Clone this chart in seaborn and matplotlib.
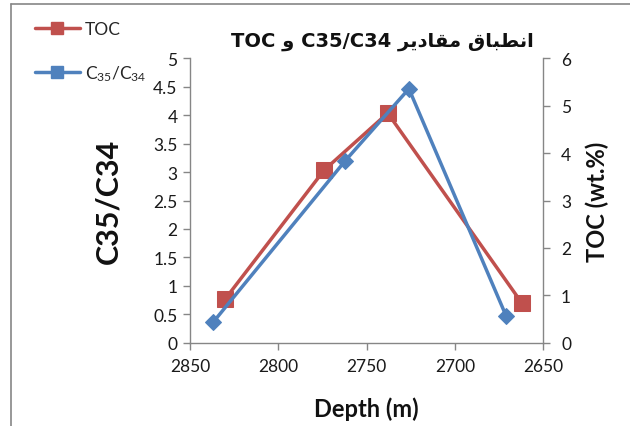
import matplotlib
matplotlib.use("Agg")
import matplotlib.pyplot as plt
from matplotlib.lines import Line2D
import seaborn as sns
import pandas as pd

# ---- data ----
toc_depth = [2830, 2774, 2738, 2662]
toc_values = [0.93, 3.64, 4.84, 0.84]
ratio_depth = [2837, 2762, 2726, 2671]
ratio_values = [0.36, 3.20, 4.46, 0.48]
x_ticks = [2850, 2800, 2750, 2700, 2650]
left_ticks = [0, 0.5, 1, 1.5, 2, 2.5, 3, 3.5, 4, 4.5, 5]
right_ticks = [0, 1, 2, 3, 4, 5, 6]

# Persian title in presentation forms, visual (left-to-right) order
word1 = "\uFED5\uFE8E\uFE92\uFEC4\uFEE7\uFE8D"      # انطباق
word2 = "\uFEAE\uFEF3\uFEA9\uFE8E\uFED8\uFEE3"      # مقادیر
title = "TOC \uFEED C35/C34 " + word2 + " " + word1

sns.set_theme(style="white")
plt.rcParams['font.family'] = ['Lato', 'DejaVu Sans']
plt.rcParams['mathtext.fontset'] = 'custom'
plt.rcParams['mathtext.rm'] = 'Lato'
plt.rcParams['mathtext.it'] = 'Lato'

RED = "#C0504D"
BLUE = "#4F81BD"
GRAY = "#868686"

fig = plt.figure(figsize=(6.3, 4.27), dpi=100)
ax = fig.add_axes([0.3016, 0.1944, 0.5604, 0.6674])
ax2 = ax.twinx()

df_r = pd.DataFrame({"depth": ratio_depth, "val": ratio_values})
df_t = pd.DataFrame({"depth": toc_depth, "val": toc_values})

sns.lineplot(data=df_r, x="depth", y="val", ax=ax, color=BLUE, lw=2.5,
             marker="D", markersize=8, markeredgecolor=BLUE, sort=False,
             estimator=None, legend=False)
sns.lineplot(data=df_t, x="depth", y="val", ax=ax2, color=RED, lw=2.5,
             marker="s", markersize=12, markeredgecolor=RED, sort=False,
             estimator=None, legend=False)
ax.set_zorder(ax2.get_zorder() + 1)
ax.patch.set_visible(False)

ax.set_xlim(2850, 2650)
ax.set_ylim(0, 5)
ax2.set_ylim(0, 6)
ax.set_xticks(x_ticks)
ax.set_yticks(left_ticks)
ax.set_yticklabels([("%g" % t) for t in left_ticks])
ax2.set_yticks(right_ticks)

for a in (ax, ax2):
    for s in a.spines.values():
        s.set_color(GRAY)
        s.set_linewidth(1.0)
    a.spines['top'].set_visible(False)
    a.tick_params(axis='both', labelsize=12.5, colors=GRAY, labelcolor="#1a1a1a",
                  length=5, width=1.0, direction='out')
    a.grid(False)
ax.spines['right'].set_visible(False)
ax2.spines['left'].set_visible(False)
ax2.spines['bottom'].set_visible(False)
ax.tick_params(axis='y', left=True, right=False, pad=4)
ax.tick_params(axis='x', bottom=True, pad=6)
ax2.tick_params(axis='y', right=True, pad=8)

ax.set_xlabel("Depth (m)", fontsize=17, fontweight='bold', labelpad=16, color="#111111")
ax.set_ylabel("C35/C34", fontsize=22, fontweight='bold', labelpad=22, color="#111111")
ax2.set_ylabel("TOC (wt.%)", fontsize=17, fontweight='bold', labelpad=10, color="#111111")

fig.text(0.607, 0.902, title, ha='center', va='center', fontsize=14,
         fontweight='bold', family=['DejaVu Sans'], color="#111111")

handles = [
    Line2D([], [], color=RED, lw=2.5, marker='s', markersize=9),
    Line2D([], [], color=BLUE, lw=2.5, marker='s', markersize=9),
]
fig.legend(handles, ["TOC", r"C$_{35}$/C$_{34}$"], loc='upper left',
           bbox_to_anchor=(0.03, 0.985), frameon=False, fontsize=12.5,
           labelspacing=1.5, handlelength=2.6, handletextpad=0.3)

# chart-area frame (top and left edges)
fig.add_artist(Line2D([0.018, 1.0], [0.988, 0.988], color=GRAY, lw=1.2,
                      transform=fig.transFigure))
fig.add_artist(Line2D([0.018, 0.018], [0.0, 0.988], color=GRAY, lw=1.2,
                      transform=fig.transFigure))

fig.savefig("out.png", dpi=100, facecolor="white")
